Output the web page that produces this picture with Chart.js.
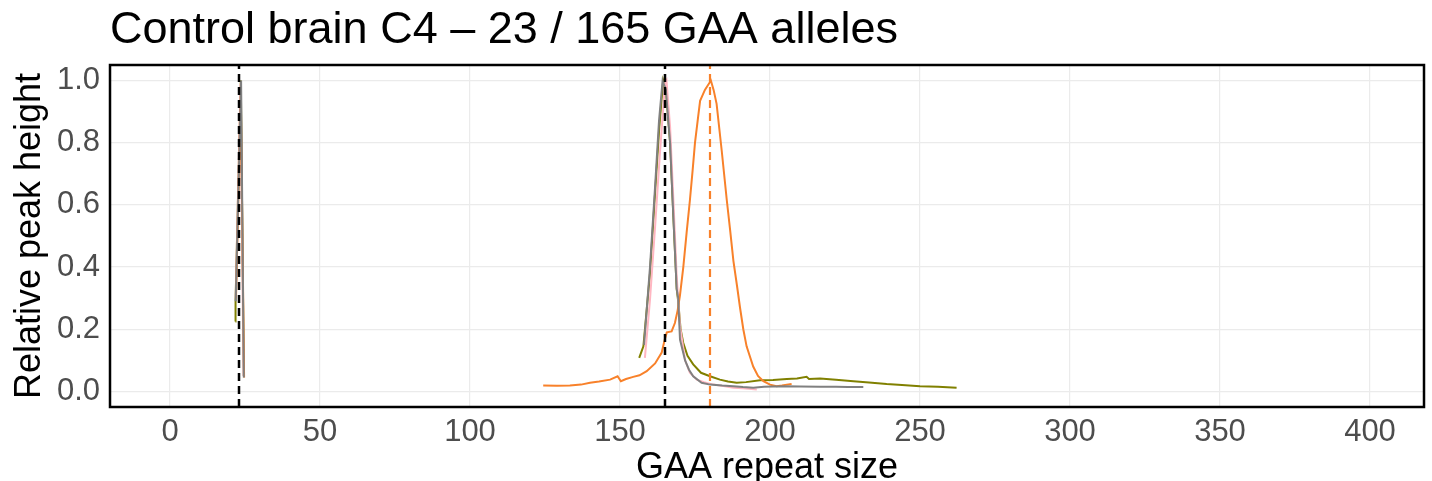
<!DOCTYPE html>
<html>
<head>
<meta charset="utf-8">
<script src="https://cdn.jsdelivr.net/npm/chart.js@4"></script>
<style>
  body { margin: 0; background: #fff; }
</style>
</head>
<body>
<canvas id="peakChart" width="1432" height="481"></canvas>
<script>
const chartTitle = 'Control brain C4 \u2013 23 / 165 GAA alleles';

// tick labels
const xTicks = [0, 50, 100, 150, 200, 250, 300, 350, 400];
const yTicks = [0, 0.2, 0.4, 0.6, 0.8, 1.0];

// allele calls (dashed lines)
const blackCalls = [23, 165];
const orangeCalls = [180];

// each trace: repeat size and relative peak height, null = break between peaks
const oliveSize = [21.8, 21.85, 23.6, 24.6, null,
  156.4, 157.8, 160.0, 161.7, 163.1, 164.4, 165.3, 166.7, 167.8, 168.9, 169.4, 170.2, 171.1, 172.5, 174.4,
  177.0, 180.0, 183.3, 186.0, 188.9, 192.0, 196.7, 201.0, 205.6, 209.0, 212.2, 213.0, 216.7, 222.0,
  227.8, 233.0, 238.9, 244.0, 250.0, 256.0, 262.2];
const oliveHeight = [0.225, 0.29, 1.0, 0.05, null,
  0.108, 0.145, 0.38, 0.64, 0.85, 1.0, 0.97, 0.80, 0.56, 0.33, 0.29, 0.20, 0.156, 0.115, 0.087,
  0.06, 0.049, 0.038, 0.032, 0.028, 0.030, 0.036, 0.037, 0.040, 0.042, 0.047, 0.040, 0.042, 0.038,
  0.033, 0.029, 0.024, 0.021, 0.017, 0.015, 0.012];

const pinkSize = [21.9, 23.5, 24.5, null,
  158.3, 160.0, 161.7, 163.3, 165.0, 165.5, 166.7, 167.8, 168.9, 170.0, 171.7, 173.3, 175.6, 178.0,
  181.1, 184.0, 187.8, 191.0, 195.6];
const pinkHeight = [0.30, 0.99, 0.05, null,
  0.108, 0.295, 0.53, 0.765, 0.99, 1.0, 0.85, 0.615, 0.37, 0.21, 0.10, 0.06, 0.038, 0.03,
  0.022, 0.018, 0.012, 0.010, 0.006];

const orangeSize = [22.0, 23.6, 24.7, null,
  124.4, 129.0, 133.3, 137.0, 140.0, 143.0, 146.7, 149.2, 150.3, 152.0, 154.4, 156.5, 158.9, 161.7,
  163.9, 165.0, 165.6, 167.2, 168.3, 169.2, 170.0, 171.1, 172.2, 173.3, 174.2, 175.0, 176.0, 176.7,
  178.3, 180.3, 181.2, 182.2, 183.9, 185.6, 186.7, 187.8, 189.0, 190.0, 191.1, 192.2, 194.4, 196.0,
  197.8, 200.0, 202.2, 204.0, 205.6, 207.2];
const orangeHeight = [0.30, 0.95, 0.045, null,
  0.019, 0.018, 0.019, 0.022, 0.028, 0.032, 0.038, 0.049, 0.033, 0.040, 0.047, 0.052, 0.065, 0.09,
  0.125, 0.17, 0.19, 0.193, 0.22, 0.26, 0.31, 0.40, 0.51, 0.615, 0.71, 0.80, 0.88, 0.935,
  0.97, 1.0, 0.97, 0.925, 0.775, 0.615, 0.52, 0.42, 0.34, 0.27, 0.20, 0.145, 0.08, 0.05,
  0.033, 0.022, 0.017, 0.019, 0.022, 0.024];

const greySize = [21.9, 23.7, 24.6, null,
  158.0, 160.0, 161.7, 163.0, 164.2, 165.3, 166.7, 167.8, 168.9, 169.4, 170.0, 171.7, 173.0, 174.4,
  177.2, 180.0, 184.0, 187.8, 191.0, 194.4, 198.0, 201.0, 205.6, 210.0, 216.7, 222.0, 226.0, 231.1];
const greyHeight = [0.29, 1.0, 0.045, null,
  0.15, 0.40, 0.66, 0.87, 1.0, 0.97, 0.80, 0.56, 0.33, 0.30, 0.167, 0.10, 0.07, 0.049,
  0.028, 0.022, 0.019, 0.017, 0.014, 0.012, 0.015, 0.016, 0.017, 0.016, 0.015, 0.015, 0.014, 0.014];

const toPoints = (xs, ys) => xs.map((x, i) => ({ x: x === null ? 90 : x, y: ys[i] }));

function trace(xs, ys, color) {
  return {
    data: toPoints(xs, ys),
    borderColor: color,
    borderWidth: 2,
    pointRadius: 0,
    tension: 0,
    spanGaps: false
  };
}

function callLine(x, color, width) {
  return {
    data: [{ x: x, y: -0.05 }, { x: x, y: 1.05 }],
    borderColor: color,
    borderWidth: width,
    borderDash: [8, 5],
    pointRadius: 0
  };
}

const orange = '#f8812a';

// first dataset is drawn on top in Chart.js
const datasets = [
  ...blackCalls.map(x => callLine(x, '#000000', 2.5)),
  ...orangeCalls.map(x => callLine(x, orange, 2.2)),
  trace(greySize, greyHeight, '#808080'),
  trace(orangeSize, orangeHeight, orange),
  trace(pinkSize, pinkHeight, '#ffb6c1'),
  trace(oliveSize, oliveHeight, '#808000')
];

const panelPlugin = {
  id: 'panel',
  afterDatasetsDraw(chart) {
    const { ctx, chartArea: a } = chart;
    ctx.save();
    ctx.strokeStyle = '#000';
    ctx.lineWidth = 2.5;
    ctx.strokeRect(a.left, a.top, a.right - a.left, a.bottom - a.top);
    ctx.restore();
  },
  afterDraw(chart) {
    const { ctx, chartArea: a } = chart;
    ctx.save();
    ctx.fillStyle = '#000';
    ctx.font = '45px "Liberation Sans", Arial, sans-serif';
    ctx.textBaseline = 'middle';
    ctx.textAlign = 'left';
    ctx.fillText(chartTitle, a.left, 31);
    ctx.restore();
  }
};

const tickFont = { family: '"Liberation Sans", Arial, sans-serif', size: 31 };
const titleFont = { family: '"Liberation Sans", Arial, sans-serif', size: 36, lineHeight: 1 };

const ctx = document.getElementById('peakChart').getContext('2d');
new Chart(ctx, {
  type: 'line',
  data: { datasets: datasets },
  plugins: [panelPlugin],
  options: {
    responsive: false,
    animation: false,
    layout: { padding: { top: 65, right: 8, left: 0, bottom: 0 } },
    plugins: {
      legend: { display: false },
      tooltip: { enabled: false }
    },
    scales: {
      x: {
        type: 'linear',
        min: -20,
        max: 418,
        afterBuildTicks: scale => { scale.ticks = xTicks.map(v => ({ value: v })); },
        afterFit: scale => { scale.height = 74; },
        ticks: { color: '#4d4d4d', font: tickFont, padding: 7, maxRotation: 0, autoSkip: false },
        grid: { color: '#ebebeb', lineWidth: 1.2, drawTicks: false },
        border: { display: false },
        title: { display: true, text: 'GAA repeat size', color: '#000', font: titleFont, padding: { top: 0, bottom: -5 } }
      },
      y: {
        type: 'linear',
        min: -0.05,
        max: 1.05,
        afterBuildTicks: scale => { scale.ticks = yTicks.map(v => ({ value: v })); },
        afterFit: scale => { scale.width = 110; },
        ticks: { color: '#4d4d4d', font: tickFont, padding: 10, callback: v => v.toFixed(1) },
        grid: { color: '#ebebeb', lineWidth: 1.2, drawTicks: false },
        border: { display: false },
        title: { display: true, text: 'Relative peak height', color: '#000', font: titleFont, padding: { top: 12, bottom: 0 } }
      }
    }
  }
});
</script>
</body>
</html>
